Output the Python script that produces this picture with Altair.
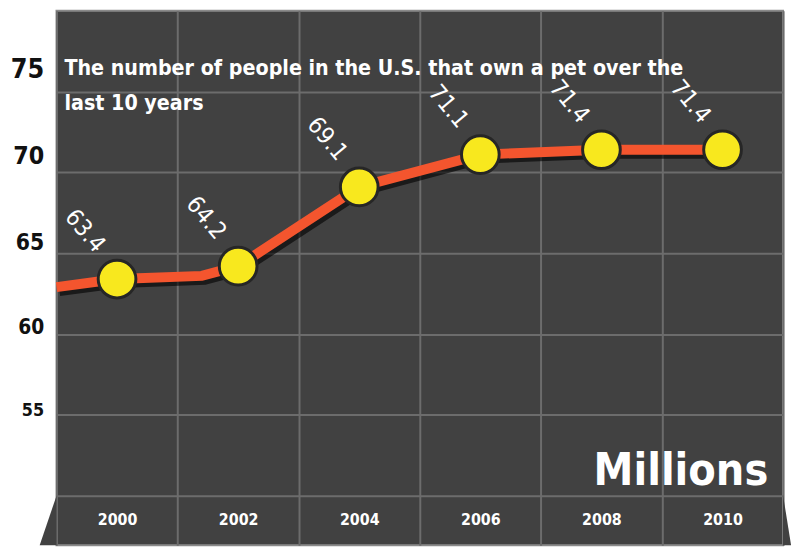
import altair as alt
import pandas as pd

# ---- data ----
years = [2000, 2002, 2004, 2006, 2008, 2010]
owners = [63.4, 64.2, 69.1, 71.1, 71.4, 71.4]
value_labels = ["63.4", "64.2", "69.1", "71.1", "71.4", "71.4"]

# the drawn line starts at the panel edge and has one unmarked bend
line_years = [1999, 2000, 2001.4, 2002, 2004, 2006, 2008, 2010]
line_values = [62.9, 63.4, 63.6, 64.2, 69.1, 71.1, 71.4, 71.4]

year_ticks = [2000, 2002, 2004, 2006, 2008, 2010]
year_grid = [1999, 2001, 2003, 2005, 2007, 2009, 2011]
value_grid = [50, 55, 60, 65, 70, 75]

title_lines = ["The number of people in the U.S. that own a pet over the", "last 10 years"]
unit_label = "Millions"

FONT = "DejaVu Sans Condensed, Liberation Sans Narrow, Liberation Sans, sans-serif"
PANEL = "#414141"
GRID = "#6c6c6c"

W, H = 734, 540

pts = pd.DataFrame({"year": years, "value": owners, "label": value_labels})
line_df = pd.DataFrame({"year": line_years, "value": line_values})

xs = alt.Scale(domain=[1999, 2011], nice=False, zero=False)
ys = alt.Scale(domain=[46.93, 80], nice=False, zero=False)

ylab_size = {"condition": [
    {"test": "datum.value == 75", "value": 27},
    {"test": "datum.value == 70", "value": 25},
    {"test": "datum.value == 65", "value": 23},
    {"test": "datum.value == 60", "value": 21}], "value": 18}
ylab_off = {"condition": [
    {"test": "datum.value == 75", "value": -14},
    {"test": "datum.value == 70", "value": -9},
    {"test": "datum.value == 65", "value": -4},
    {"test": "datum.value == 60", "value": -1}], "value": 1}

shadow = alt.Chart(line_df).mark_line(
    color="black", strokeWidth=10, opacity=0.6, xOffset=3, yOffset=4
).encode(
    x=alt.X("year:Q", scale=xs, axis=alt.Axis(
        orient="top", values=year_grid, grid=True, labels=False, ticks=False,
        domain=False, title=None, gridColor=GRID, gridWidth=2, gridOpacity=1)),
    y=alt.Y("value:Q", scale=ys, axis=alt.Axis(
        values=value_grid, grid=True, gridColor=GRID, gridWidth=2, gridOpacity=1,
        ticks=False, tickSize=0, domain=False, title=None,
        labelExpr="datum.value == 50 ? '' : datum.label",
        labelFont=FONT, labelFontWeight="bold", labelColor="#111111",
        labelFontSize=ylab_size, labelOffset=ylab_off,
        labelBaseline="alphabetic", labelPadding=13)),
)

line = alt.Chart(line_df).mark_line(color="#F4552E", strokeWidth=10).encode(
    x=alt.X("year:Q", scale=xs, axis=alt.Axis(
        orient="bottom", values=year_ticks, grid=False, ticks=False, tickSize=0,
        domain=False, title=None, offset=-26, labelPadding=0,
        labelBaseline="middle", labelColor="white", labelFont=FONT,
        labelFontWeight="bold", labelFontSize=16, format="d")),
    y=alt.Y("value:Q", scale=ys, axis=None),
)

points = alt.Chart(pts).mark_point(
    shape="circle", filled=True, fill="#F8E81E", stroke="#262626",
    strokeWidth=3, size=1450, opacity=1
).encode(
    x=alt.X("year:Q", scale=xs, axis=None),
    y=alt.Y("value:Q", scale=ys, axis=None),
)

labels = alt.Chart(pts).mark_text(
    angle=50, align="center", baseline="middle", dx=-58, dy=-6,
    fontSize=24, color="white", font=FONT
).encode(
    x=alt.X("year:Q", scale=xs, axis=None),
    y=alt.Y("value:Q", scale=ys, axis=None),
    text="label:N",
)

one = pd.DataFrame({"k": [0]})

title = alt.Chart(one).mark_text(
    align="left", baseline="alphabetic", fontSize=21.5, fontWeight="bold",
    color="white", font=FONT, lineHeight=35
).encode(x=alt.value(8), y=alt.value(65), text=alt.value(title_lines))

unit = alt.Chart(one).mark_text(
    align="right", baseline="alphabetic", fontSize=45, fontWeight="bold",
    color="white", font=FONT
).encode(x=alt.value(719), y=alt.value(479), text=alt.value(unit_label))

left_slant = alt.Chart(one).mark_point(
    shape="M 0.34 -1 L 0.34 1 L -0.34 1 Z", filled=True, fill=PANEL,
    stroke=None, size=2500, opacity=1
).encode(x=alt.value(-8.5), y=alt.value(515))

right_slant = alt.Chart(one).mark_point(
    shape="M -0.16 -1 L -0.16 1 L 0.16 1 Z", filled=True, fill=PANEL,
    stroke=None, size=2601, opacity=1
).encode(x=alt.value(738), y=alt.value(514.5))

chart = alt.layer(
    left_slant, right_slant, shadow, line, points, labels, title, unit
).resolve_axis(x="independent", y="independent").properties(
    width=W, height=H,
    autosize=alt.AutoSizeParams(type="none"),
    padding={"left": 49, "top": 0, "right": 8, "bottom": 2},
).configure(background="white").configure_view(
    fill=PANEL, stroke="#8a8a8a", strokeWidth=2
)

chart.save("out.html", embed_options={"renderer": "svg", "actions": False})
